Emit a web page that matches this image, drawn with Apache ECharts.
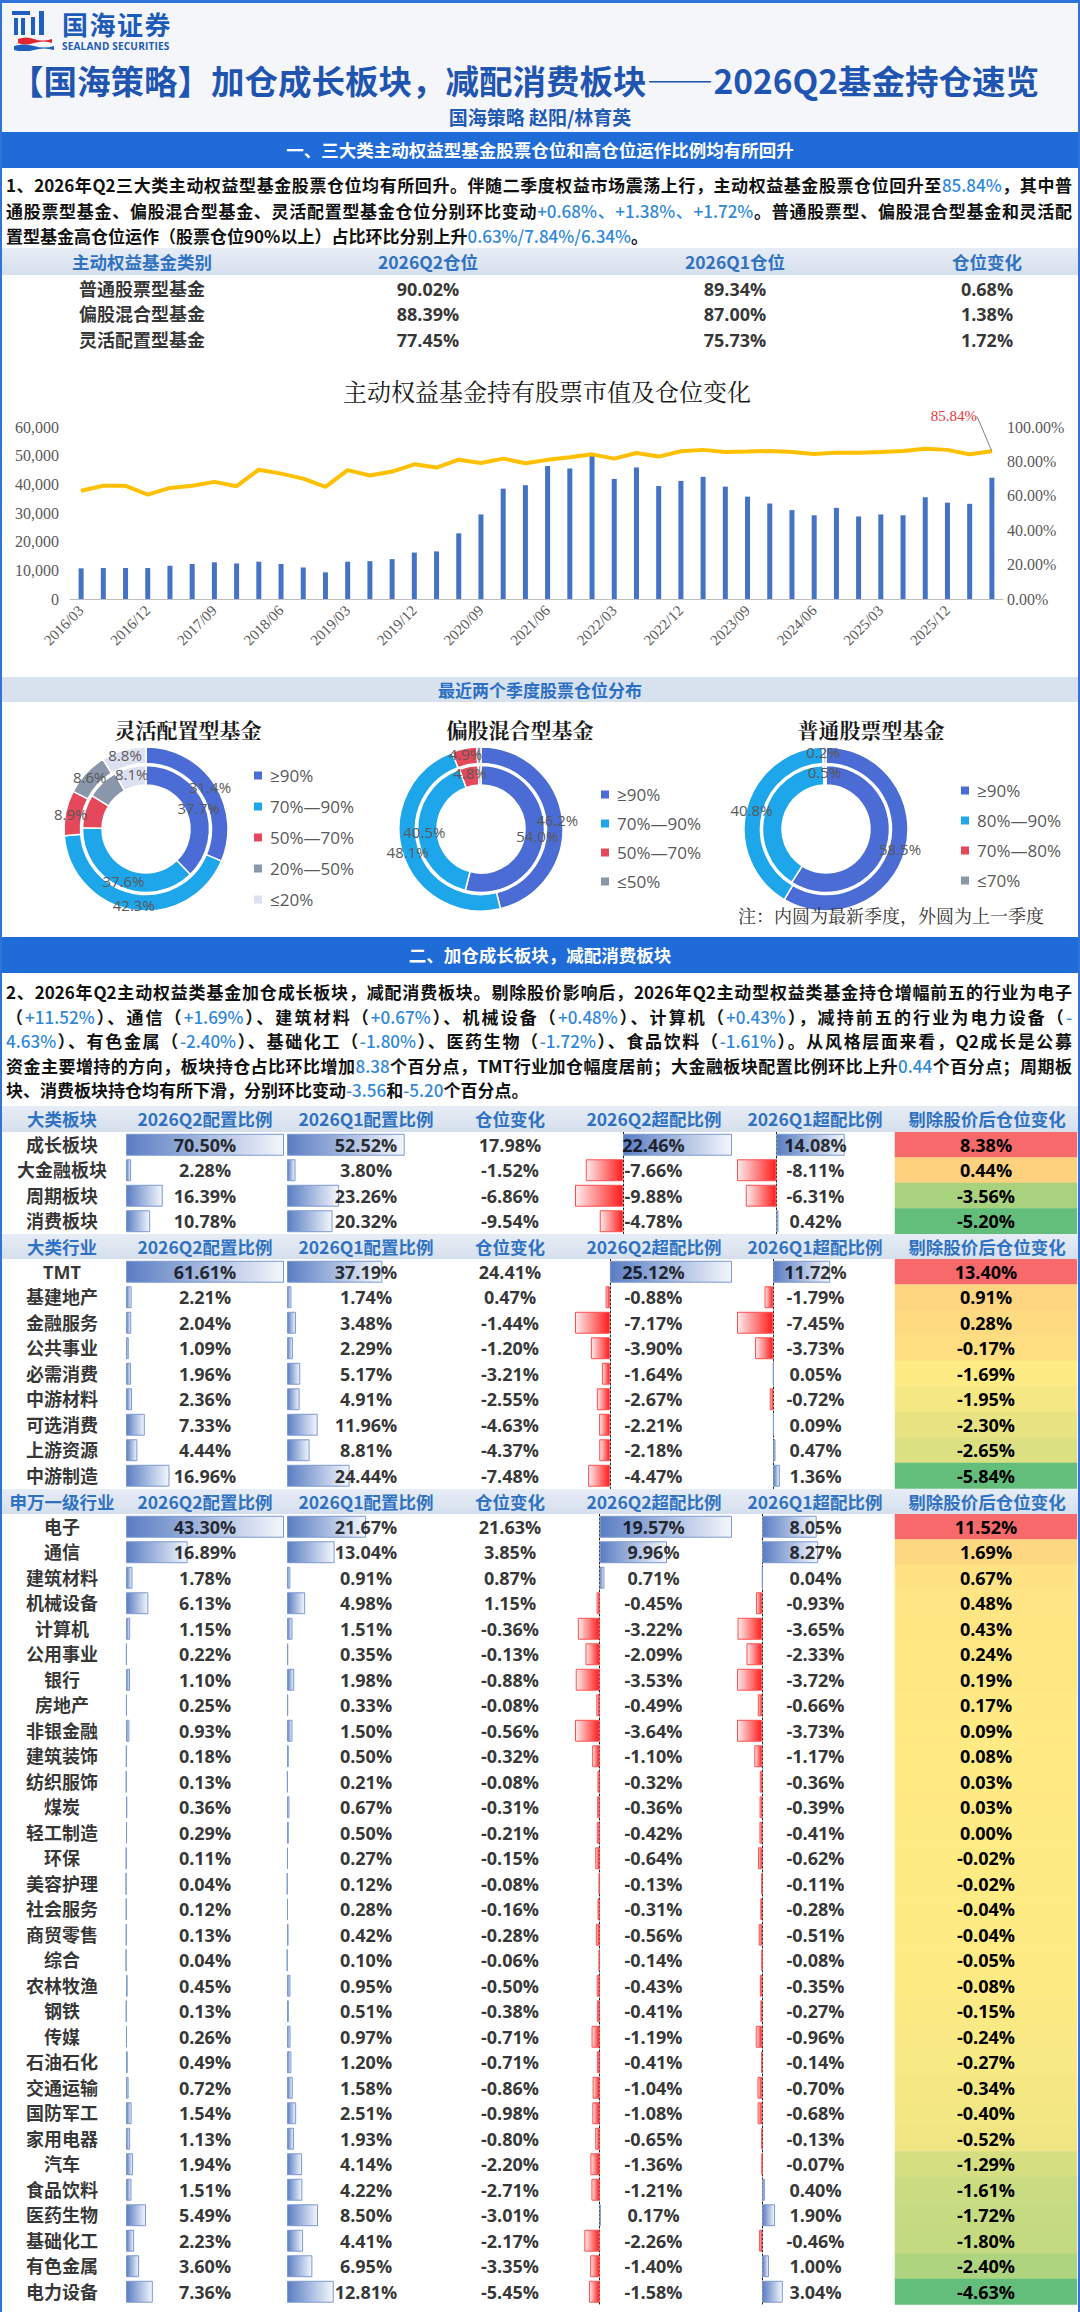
<!DOCTYPE html>
<html lang="zh-CN">
<head>
<meta charset="utf-8">
<title>2026Q2基金持仓速览</title>
<script src="https://cdn.jsdelivr.net/npm/echarts/dist/echarts.min.js"></script>
<style>
html,body{margin:0;padding:0;background:#fff;}
#page{position:relative;width:1080px;height:2312px;overflow:hidden;background:#fff;font-family:'Noto Sans CJK SC','Noto Sans',sans-serif;}
.abs{position:absolute;}
.secbar{position:absolute;left:0;width:1080px;background:#1f6cd8;color:#fff;font-weight:700;text-align:center;font-size:17.5px;}
.para{position:absolute;left:6px;width:1066px;font-weight:700;color:#111;font-size:17px;}
.para div{text-align:justify;text-align-last:justify;}
.para div.last{text-align:left;text-align-last:left;}
.hl{color:#2f88da;font-weight:500;}
.hdr{position:absolute;left:0;width:1080px;background:linear-gradient(#e7edf6,#d5dfec);}
.hdr span{position:absolute;top:0;text-align:center;color:#2f72c2;font-weight:700;font-size:17.5px;white-space:nowrap;}
.chart{position:absolute;left:0;width:1080px;}
</style>
</head>
<body>
<div id="page">
  <div class="abs" style="left:0;top:0;width:1080px;height:132px;background:#f5f6f9;"></div>
  <svg class="abs" style="left:12px;top:11px" width="44" height="40" viewBox="0 0 44 40">
    <rect x="0" y="0" width="18" height="4" fill="#1f5fbf"/>
    <rect x="2" y="7" width="4" height="17" fill="#1f5fbf"/>
    <rect x="9" y="7" width="4" height="17" fill="#1f5fbf"/>
    <rect x="27" y="0" width="5" height="24" fill="#1f5fbf"/>
    <rect x="19" y="6" width="4" height="18" fill="#1f5fbf"/>
    <path d="M6 28 Q14 25 22 28 T40 28 L40 32 Q32 29 22 32 T6 32 Z" fill="#e0262e"/>
    <path d="M2 35 Q12 32 22 35 T42 35 L42 39 Q32 36 22 39 T2 39 Z" fill="#1f5fbf"/>
  </svg>
  <div class="abs" style="left:62px;top:10px;font-size:26px;font-weight:700;color:#1c5bb8;line-height:28px;letter-spacing:1.5px;">国海证券</div>
  <div class="abs" style="left:62px;top:40px;font-size:10px;font-weight:700;color:#1c5bb8;line-height:12px;font-family:'Open Sans',sans-serif;letter-spacing:0.2px;">SEALAND SECURITIES</div>
  <div class="abs" style="left:10px;top:60px;font-size:33.5px;font-weight:700;color:#1f55b0;line-height:40px;white-space:nowrap;">【国海策略】加仓成长板块，减配消费板块——2026Q2基金持仓速览</div>
  <div class="abs" style="left:0;top:104px;width:1080px;text-align:center;font-size:19px;font-weight:700;color:#1f5ab5;line-height:26px;">国海策略 赵阳/林育英</div>

  <div class="secbar" style="top:132px;height:36px;line-height:36px;">一、三大类主动权益型基金股票仓位和高仓位运作比例均有所回升</div>
  <div class="para" style="top:172px;line-height:25.5px;">
    <div>1、2026年Q2三大类主动权益型基金股票仓位均有所回升。伴随二季度权益市场震荡上行，主动权益基金股票仓位回升至<span class="hl">85.84%</span>，其中普</div>
    <div>通股票型基金、偏股混合型基金、灵活配置型基金仓位分别环比变动<span class="hl">+0.68%、+1.38%、+1.72%</span>。普通股票型、偏股混合型基金和灵活配</div>
    <div class="last">置型基金高仓位运作（股票仓位90%以上）占比环比分别上升<span class="hl">0.63%/7.84%/6.34%</span>。</div>
  </div>
  <div id="hdrSmall"></div>
  <div id="smallTable" class="chart" style="top:276px;height:76.5px;"></div>
  <div id="posChart" class="chart" style="top:360px;height:305px;"></div>

  <div class="abs" style="left:0;top:677px;width:1080px;height:25px;line-height:25px;background:#d8e2ef;text-align:center;color:#2b6fc4;font-weight:700;font-size:17px;">最近两个季度股票仓位分布</div>
  <div id="donuts" class="chart" style="top:703px;height:232px;"></div>

  <div class="secbar" style="top:937px;height:36px;line-height:36px;">二、加仓成长板块，减配消费板块</div>
  <div class="para" style="top:980px;line-height:24.5px;">
    <div>2、2026年Q2主动权益类基金加仓成长板块，减配消费板块。剔除股价影响后，2026年Q2主动型权益类基金持仓增幅前五的行业为电子</div>
    <div>（<span class="hl">+11.52%</span>）、通信（<span class="hl">+1.69%</span>）、建筑材料（<span class="hl">+0.67%</span>）、机械设备（<span class="hl">+0.48%</span>）、计算机（<span class="hl">+0.43%</span>），减持前五的行业为电力设备（<span class="hl">-</span></div>
    <div><span class="hl">4.63%</span>）、有色金属（<span class="hl">-2.40%</span>）、基础化工（<span class="hl">-1.80%</span>）、医药生物（<span class="hl">-1.72%</span>）、食品饮料（<span class="hl">-1.61%</span>）。从风格层面来看，Q2成长是公募</div>
    <div>资金主要增持的方向，板块持仓占比环比增加<span class="hl">8.38</span>个百分点，TMT行业加仓幅度居前；大金融板块配置比例环比上升<span class="hl">0.44</span>个百分点；周期板</div>
    <div class="last">块、消费板块持仓均有所下滑，分别环比变动<span class="hl">-3.56</span>和<span class="hl">-5.20</span>个百分点。</div>
  </div>

  <div id="hdr1"></div>
  <div id="block1" class="chart" style="top:1131.5px;height:102px;"></div>
  <div id="hdr2"></div>
  <div id="block2" class="chart" style="top:1259px;height:229.5px;"></div>
  <div id="hdr3"></div>
  <div id="block3" class="chart" style="top:1514px;height:790.5px;"></div>

  <div class="abs" style="left:0;top:0;width:1080px;height:3px;background:#2f74d9;"></div>
  <div class="abs" style="left:0;top:0;width:2px;height:2312px;background:#2f74d9;"></div>
  <div class="abs" style="left:1078px;top:0;width:2px;height:2312px;background:#2f74d9;"></div>
</div>

<script>
// ---------------- DATA ----------------
const quarters = ['2016/03','2016/06','2016/09','2016/12','2017/03','2017/06','2017/09','2017/12',
  '2018/03','2018/06','2018/09','2018/12','2019/03','2019/06','2019/09','2019/12',
  '2020/03','2020/06','2020/09','2020/12','2021/03','2021/06','2021/09','2021/12',
  '2022/03','2022/06','2022/09','2022/12','2023/03','2023/06','2023/09','2023/12',
  '2024/03','2024/06','2024/09','2024/12','2025/03','2025/06','2025/09','2025/12',
  '2026/03','2026/06'];
const stockMarketValue = [10700,10800,10800,10800,11600,12200,12800,12400,
  13000,12200,11000,9300,13000,13200,13900,16200,
  16600,22900,29500,38500,39700,46400,45500,50100,
  41900,45900,39400,41200,42600,39200,35700,33300,
  31000,29200,31800,28800,29500,29200,35500,33600,
  33200,42300];
const equityPosition = [62.9,65.8,65.8,60.7,64.6,65.8,68.1,65.6,
  75.2,72.9,70.0,65.2,74.9,71.8,74.1,78.3,
  76.4,81.0,79.1,81.6,78.9,80.9,82.4,84.1,
  81.6,84.9,82.8,85.9,86.7,85.5,85.7,86.1,
  85.5,84.3,85.1,85.1,85.5,86.1,87.4,86.7,
  84.1,85.84];

const smallHeaders = ['主动权益基金类别','2026Q2仓位','2026Q1仓位','仓位变化'];
const fundTypes = ['普通股票型基金','偏股混合型基金','灵活配置型基金'];
const fundPosQ2 = [90.02, 88.39, 77.45];
const fundPosQ1 = [89.34, 87.00, 75.73];
const fundPosChange = [0.68, 1.38, 1.72];

const donutTitles = ['灵活配置型基金','偏股混合型基金','普通股票型基金'];
const flexNames = ['≥90%','70%—90%','50%—70%','20%—50%','≤20%'];
const flexInner = [37.7, 37.6, 8.5, 8.1, 8.1];
const flexOuter = [31.4, 42.3, 8.9, 8.6, 8.8];
const mixNames = ['≥90%','70%—90%','50%—70%','≤50%'];
const mixInner = [54.0, 40.5, 4.8, 0.7];
const mixOuter = [46.2, 48.1, 4.9, 0.8];
const stockNames = ['≥90%','80%—90%','70%—80%','≤70%'];
const stockInner = [59.1, 40.2, 0.5, 0.2];
const stockOuter = [58.5, 40.8, 0.2, 0.5];
const donutNote = '注：内圆为最新季度，外圆为上一季度';

const colHeadTail = ['2026Q2配置比例','2026Q1配置比例','仓位变化','2026Q2超配比例','2026Q1超配比例','剔除股价后仓位变化'];

const sectorNames = ['成长板块','大金融板块','周期板块','消费板块'];
const sectorQ2 = [70.50, 2.28, 16.39, 10.78];
const sectorQ1 = [52.52, 3.80, 23.26, 20.32];
const sectorChg = [17.98, -1.52, -6.86, -9.54];
const sectorOverQ2 = [22.46, -7.66, -9.88, -4.78];
const sectorOverQ1 = [14.08, -8.11, -6.31, 0.42];
const sectorAdj = [8.38, 0.44, -3.56, -5.20];

const styleNames = ['TMT','基建地产','金融服务','公共事业','必需消费','中游材料','可选消费','上游资源','中游制造'];
const styleQ2 = [61.61, 2.21, 2.04, 1.09, 1.96, 2.36, 7.33, 4.44, 16.96];
const styleQ1 = [37.19, 1.74, 3.48, 2.29, 5.17, 4.91, 11.96, 8.81, 24.44];
const styleChg = [24.41, 0.47, -1.44, -1.20, -3.21, -2.55, -4.63, -4.37, -7.48];
const styleOverQ2 = [25.12, -0.88, -7.17, -3.90, -1.64, -2.67, -2.21, -2.18, -4.47];
const styleOverQ1 = [11.72, -1.79, -7.45, -3.73, 0.05, -0.72, 0.09, 0.47, 1.36];
const styleAdj = [13.40, 0.91, 0.28, -0.17, -1.69, -1.95, -2.30, -2.65, -5.84];

const swNames = ['电子','通信','建筑材料','机械设备','计算机','公用事业','银行','房地产','非银金融','建筑装饰',
  '纺织服饰','煤炭','轻工制造','环保','美容护理','社会服务','商贸零售','综合','农林牧渔','钢铁',
  '传媒','石油石化','交通运输','国防军工','家用电器','汽车','食品饮料','医药生物','基础化工','有色金属','电力设备'];
const swQ2 = [43.30,16.89,1.78,6.13,1.15,0.22,1.10,0.25,0.93,0.18,
  0.13,0.36,0.29,0.11,0.04,0.12,0.13,0.04,0.45,0.13,
  0.26,0.49,0.72,1.54,1.13,1.94,1.51,5.49,2.23,3.60,7.36];
const swQ1 = [21.67,13.04,0.91,4.98,1.51,0.35,1.98,0.33,1.50,0.50,
  0.21,0.67,0.50,0.27,0.12,0.28,0.42,0.10,0.95,0.51,
  0.97,1.20,1.58,2.51,1.93,4.14,4.22,8.50,4.41,6.95,12.81];
const swChg = [21.63,3.85,0.87,1.15,-0.36,-0.13,-0.88,-0.08,-0.56,-0.32,
  -0.08,-0.31,-0.21,-0.15,-0.08,-0.16,-0.28,-0.06,-0.50,-0.38,
  -0.71,-0.71,-0.86,-0.98,-0.80,-2.20,-2.71,-3.01,-2.17,-3.35,-5.45];
const swOverQ2 = [19.57,9.96,0.71,-0.45,-3.22,-2.09,-3.53,-0.49,-3.64,-1.10,
  -0.32,-0.36,-0.42,-0.64,-0.13,-0.31,-0.56,-0.14,-0.43,-0.41,
  -1.19,-0.41,-1.04,-1.08,-0.65,-1.36,-1.21,0.17,-2.26,-1.40,-1.58];
const swOverQ1 = [8.05,8.27,0.04,-0.93,-3.65,-2.33,-3.72,-0.66,-3.73,-1.17,
  -0.36,-0.39,-0.41,-0.62,-0.11,-0.28,-0.51,-0.08,-0.35,-0.27,
  -0.96,-0.14,-0.70,-0.68,-0.13,-0.07,0.40,1.90,-0.46,1.00,3.04];
const swAdj = [11.52,1.69,0.67,0.48,0.43,0.24,0.19,0.17,0.09,0.08,
  0.03,0.03,0.00,-0.02,-0.02,-0.04,-0.04,-0.05,-0.08,-0.15,
  -0.24,-0.27,-0.34,-0.40,-0.52,-1.29,-1.61,-1.72,-1.80,-2.40,-4.63];

// ---------------- STYLE / LAYOUT ----------------
const SANS = "'Open Sans','Noto Sans CJK SC',sans-serif";
const SERIF = "'Liberation Serif','DejaVu Serif',serif";
const SERIF_CJK = "'Noto Serif CJK SC','Noto Sans CJK SC',serif";
const ROW_H = 25.5;
const pct = v => v.toFixed(2) + '%';

function headerRow(id, top, labels, centers, height) {
  const d = document.getElementById(id);
  d.className = 'hdr';
  d.style.top = top + 'px';
  d.style.height = height + 'px';
  labels.forEach((t, i) => {
    const s = document.createElement('span');
    s.textContent = t;
    s.style.left = (centers[i] - 110) + 'px';
    s.style.width = '220px';
    s.style.lineHeight = height + 'px';
    d.appendChild(s);
  });
}

const POS_STYLE = {
  color: new echarts.graphic.LinearGradient(0, 0, 1, 0, [{offset: 0, color: '#5a7dc2'}, {offset: 1, color: '#f3f6fc'}]),
  borderColor: '#7b99d2', borderWidth: 1
};
const NEG_STYLE = {
  color: new echarts.graphic.LinearGradient(0, 0, 1, 0, [{offset: 0, color: '#ffecec'}, {offset: 1, color: '#ff1c1c'}]),
  borderColor: '#ff4d4d', borderWidth: 1
};

function rankScale(vals) {
  const s = [...vals].sort((a, b) => a - b);
  const n = s.length;
  const med = n % 2 ? s[(n - 1) / 2] : (s[n / 2 - 1] + s[n / 2]) / 2;
  const mn = s[0], mx = s[n - 1];
  return vals.map(v => v <= med ? 0.5 * (v - mn) / ((med - mn) || 1) : 0.5 + 0.5 * (v - med) / ((mx - med) || 1));
}

function tableOption(rows, cols, fontSize) {
  const H = rows.length * ROW_H;
  const o = {animation: false, grid: [], xAxis: [], yAxis: [], series: [], visualMap: []};
  const lbl = fmt => ({show: true, position: 'inside', color: '#000', fontWeight: 'bold', fontSize: fontSize, fontFamily: SANS, formatter: fmt});
  cols.forEach((c, gi) => {
    o.grid.push({left: c.left, width: c.width, top: 0, height: H, containLabel: false, outerBoundsMode: 'none'});
    o.yAxis.push({type: 'category', gridIndex: gi, data: rows, inverse: true, boundaryGap: true,
      axisLabel: {show: false}, axisTick: {show: false}, splitLine: {show: false},
      axisLine: {show: !!c.zeroLine, onZero: true, lineStyle: {color: '#222', type: [2, 2], width: 1}}});
    const catIdx = o.xAxis.length;
    o.xAxis.push({type: 'category', gridIndex: gi, data: ['c'], show: false, position: 'top'});
    if (c.bar) {
      const valIdx = o.xAxis.length;
      o.xAxis.push({type: 'value', gridIndex: gi, min: c.min, max: c.max, show: false, position: 'bottom'});
      o.series.push({type: 'bar', xAxisIndex: valIdx, yAxisIndex: gi, barCategoryGap: '14%', silent: true,
        data: c.values.map(v => ({value: v, itemStyle: v >= 0 ? POS_STYLE : NEG_STYLE}))});
    }
    if (c.heat) {
      const mapped = rankScale(c.values);
      o.series.push({type: 'heatmap', xAxisIndex: catIdx, yAxisIndex: gi, silent: true,
        itemStyle: {borderWidth: 0},
        data: rows.map((r, i) => ['c', r, mapped[i], c.values[i]]),
        label: lbl(p => c.fmt(p.data[3]))});
      o.visualMap.push({type: 'continuous', show: false, min: 0, max: 1, dimension: 2,
        seriesIndex: o.series.length - 1, inRange: {color: ['#63BE7B', '#FFEB84', '#F8696B']}});
    } else {
      o.series.push({type: 'scatter', xAxisIndex: catIdx, yAxisIndex: gi, silent: true, z: 5,
        symbol: 'circle', symbolSize: 1, itemStyle: {color: 'rgba(0,0,0,0)'},
        data: rows.map((r, i) => ['c', r, c.values[i]]),
        label: lbl(p => c.fmt(p.data[2]))});
    }
  });
  return o;
}

function blockCols(names, q2, q1, chg, oq2, oq1, adj) {
  const allocMax = Math.max(...q2, ...q1);
  const lo5 = Math.min(0, ...oq2), lo6 = Math.min(0, ...oq1);
  const span = Math.max(Math.max(...oq2) - lo5, Math.max(...oq1) - lo6);
  return [
    {left: 0, width: 124, values: names, fmt: v => v},
    {left: 126, width: 158, values: q2, bar: true, min: 0, max: allocMax, fmt: pct},
    {left: 287, width: 158, values: q1, bar: true, min: 0, max: allocMax, fmt: pct},
    {left: 446, width: 128, values: chg, fmt: pct},
    {left: 575, width: 157, values: oq2, bar: true, zeroLine: true, min: lo5, max: lo5 + span, fmt: pct},
    {left: 737, width: 157, values: oq1, bar: true, zeroLine: true, min: lo6, max: lo6 + span, fmt: pct},
    {left: 895, width: 182, values: adj, heat: true, fmt: pct}
  ];
}

function init(id) {
  return echarts.init(document.getElementById(id), null, {renderer: 'svg'});
}

// ---------------- SMALL TABLE ----------------
headerRow('hdrSmall', 248, smallHeaders, [142, 428, 735, 987], 27);
init('smallTable').setOption(tableOption(fundTypes, [
  {left: 42, width: 200, values: fundTypes, fmt: v => v},
  {left: 328, width: 200, values: fundPosQ2, fmt: pct},
  {left: 635, width: 200, values: fundPosQ1, fmt: pct},
  {left: 897, width: 180, values: fundPosChange, fmt: pct}
], 18));

// ---------------- POSITION CHART ----------------
const lastIdx = equityPosition.length - 1;
init('posChart').setOption({
  animation: false,
  title: {text: '主动权益基金持有股票市值及仓位变化', left: 542, top: 13, textAlign: 'center',
    textStyle: {fontSize: 24, fontWeight: 'normal', color: '#1a1a1a', fontFamily: SERIF_CJK}},
  grid: {left: 70, width: 933, top: 67, height: 172, containLabel: false, outerBoundsMode: 'none'},
  xAxis: {type: 'category', data: quarters, boundaryGap: true,
    axisLine: {show: true, lineStyle: {color: '#bfbfbf', width: 1}}, axisTick: {show: false},
    axisLabel: {interval: 2, rotate: 45, fontFamily: SERIF, fontSize: 15, color: '#595959', margin: 9}},
  yAxis: [
    {type: 'value', min: 0, max: 60000, interval: 10000, splitLine: {show: false},
      axisLine: {show: false}, axisTick: {show: false},
      axisLabel: {fontFamily: SERIF, fontSize: 16, color: '#595959', margin: 11}},
    {type: 'value', min: 0, max: 100, interval: 20, position: 'right', splitLine: {show: false},
      axisLine: {show: false}, axisTick: {show: false},
      axisLabel: {fontFamily: SERIF, fontSize: 16, color: '#595959', margin: 4, formatter: v => v.toFixed(2) + '%'}}
  ],
  series: [
    {type: 'bar', data: stockMarketValue, barWidth: 5, itemStyle: {color: '#4472c4'}, silent: true},
    {type: 'line', yAxisIndex: 1, symbol: 'circle', symbolSize: 1, showAllSymbol: true, silent: true, z: 3,
      lineStyle: {color: '#ffc000', width: 4}, itemStyle: {color: '#ffc000'},
      data: equityPosition.map((v, i) => i === lastIdx ? {
        value: v,
        label: {show: true, position: 'top', formatter: p => p.value.toFixed(2) + '%', color: '#e8363c', fontFamily: SERIF, fontSize: 15},
        labelLine: {show: true, lineStyle: {color: '#7f7f7f', width: 1}}
      } : v),
      labelLayout: {dx: -38, dy: -22}
    }
  ]
});

// ---------------- DONUTS ----------------
const DONUT_COLORS = ['#4a6cd4', '#1ea6ea', '#e5485a', '#8a97ab', '#dce1f2'];
const donuts = [
  {names: flexNames, inner: flexInner, outer: flexOuter, cx: 146, labelN: 5, legendLeft: 247, legendTop: 59, gap: 14},
  {names: mixNames, inner: mixInner, outer: mixOuter, cx: 481, labelN: 3, legendLeft: 594, legendTop: 78, gap: 12},
  {names: stockNames, inner: stockInner, outer: stockOuter, cx: 826, labelN: 3, legendLeft: 954, legendTop: 74, gap: 13}
];
const titleCenters = [183, 515, 866];
const donutSeries = [];
donuts.forEach(d => {
  [[d.inner, [44, 63.5]], [d.outer, [65.5, 82]]].forEach(([vals, radius]) => {
    donutSeries.push({type: 'pie', center: [d.cx, 126], radius: radius, startAngle: 90, clockwise: true,
      silent: true, avoidLabelOverlap: false, labelLine: {show: false},
      itemStyle: {borderColor: '#fff', borderWidth: 1.5},
      label: {position: 'inside', color: '#595959', fontSize: 15, fontFamily: SANS, formatter: p => p.value.toFixed(1) + '%'},
      data: d.names.map((n, i) => ({name: n, value: vals[i], itemStyle: {color: DONUT_COLORS[i]}, label: {show: i < d.labelN}}))});
  });
});
init('donuts').setOption({
  animation: false,
  title: donutTitles.map((t, i) => ({text: t, left: titleCenters[i], top: 10, textAlign: 'center',
    textStyle: {fontSize: 21, fontWeight: 'bold', color: '#1a1a1a', fontFamily: SERIF_CJK}}))
    .concat([{text: donutNote, right: 36, top: 203, padding: 0, textStyle: {fontSize: 18, fontWeight: 'normal', color: '#333', fontFamily: SERIF_CJK}}]),
  legend: donuts.map(d => ({orient: 'vertical', left: d.legendLeft, top: d.legendTop, itemWidth: 10, itemHeight: 10,
    itemGap: d.gap, icon: 'rect', selectedMode: false, data: d.names,
    textStyle: {fontSize: 17, color: '#595959', fontFamily: SANS, padding: [0, 0, 0, 2]}})),
  series: donutSeries
});

// ---------------- BIG TABLE ----------------
const HEAD_CENTERS = [62, 205, 366, 510, 654, 815, 987];
headerRow('hdr1', 1106, ['大类板块'].concat(colHeadTail), HEAD_CENTERS, 25.5);
headerRow('hdr2', 1233.5, ['大类行业'].concat(colHeadTail), HEAD_CENTERS, 25.5);
headerRow('hdr3', 1488.5, ['申万一级行业'].concat(colHeadTail), HEAD_CENTERS, 25.5);

init('block1').setOption(tableOption(sectorNames,
  blockCols(sectorNames, sectorQ2, sectorQ1, sectorChg, sectorOverQ2, sectorOverQ1, sectorAdj), 18));
init('block2').setOption(tableOption(styleNames,
  blockCols(styleNames, styleQ2, styleQ1, styleChg, styleOverQ2, styleOverQ1, styleAdj), 18));
init('block3').setOption(tableOption(swNames,
  blockCols(swNames, swQ2, swQ1, swChg, swOverQ2, swOverQ1, swAdj), 18));
</script>
</body>
</html>
